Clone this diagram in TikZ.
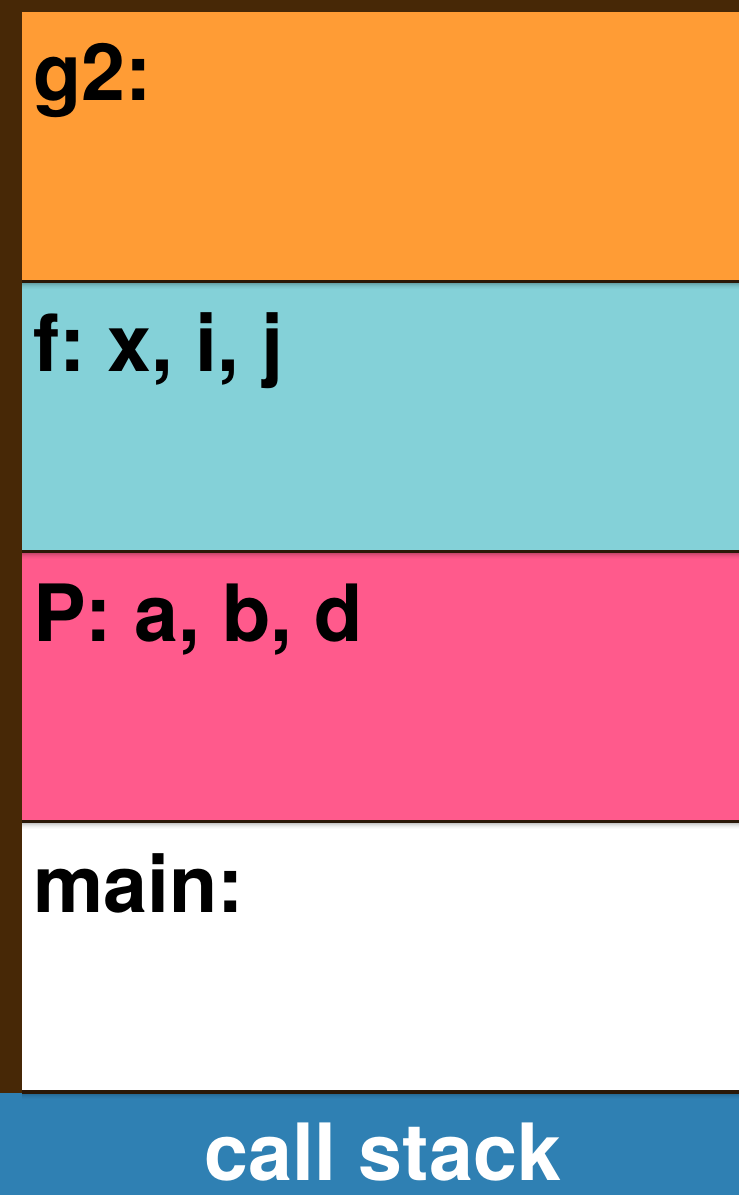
\documentclass[tikz,border=0pt]{standalone}
\usepackage{fontspec}
\setmainfont{TeX Gyre Heros}
\frenchspacing
\definecolor{bgbrown}{HTML}{472806}
\definecolor{sepline}{HTML}{2A1808}
\definecolor{gorange}{HTML}{FF9C35}
\definecolor{fteal}{HTML}{84D1D8}
\definecolor{ppink}{HTML}{FF5A8C}
\definecolor{barblue}{HTML}{2F80B3}
\tikzset{
  label/.style={anchor=base west, inner sep=0pt, font=\fontsize{79}{90}\selectfont\bfseries\frenchspacing, text=black},
  barlabel/.style={anchor=base, inner sep=0pt, font=\fontsize{79}{90}\selectfont\bfseries\frenchspacing, text=white},
  sep/.style={sepline, line width=3.5pt}
}
\begin{document}
\begin{tikzpicture}[x=1pt,y=-1pt]
\useasboundingbox (0,0) rectangle (739,1195);
\fill[bgbrown] (0,0) rectangle (739,1195);
% frames
\fill[gorange] (22,12) rectangle (739,280);
\fill[fteal] (22,283) rectangle (739,550);
\fill[ppink] (22,553) rectangle (739,820);
\fill[white] (22,823) rectangle (739,1091);
\fill[barblue] (0,1093) rectangle (739,1195);
% shadows under separators
\foreach \y in {283,553,823,1093}{
  \foreach \k/\o in {0/0.22,1/0.16,2/0.11,3/0.07,4/0.04,5/0.02}{
    \fill[black, fill opacity=\o] (22,\y+\k) rectangle (739,\y+\k+1);
  }
}
% separators
\draw[sep] (22,281.5) -- (739,281.5);
\draw[sep] (22,551.5) -- (739,551.5);
\draw[sep] (22,821.5) -- (739,821.5);
\draw[sep] (22,1092) -- (739,1092);
% labels
\node[label] (g2) at (33,100) {g2:};
\node[label] (f) at (33,371) {f: x, i, j};
\node[label] (P) at (33,641) {P: a, b, d};
\node[label] (main) at (33,912) {main:};
\node[barlabel] (cs) at (383,1180) {call stack};
\end{tikzpicture}
\end{document}
